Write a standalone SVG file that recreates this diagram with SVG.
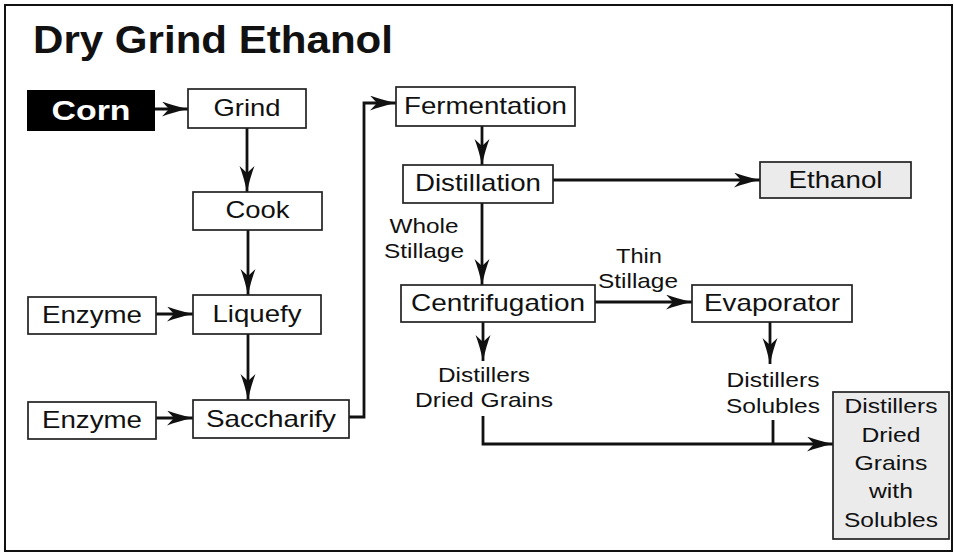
<svg xmlns="http://www.w3.org/2000/svg" width="954" height="553" viewBox="0 0 954 553">
<style>
.box{fill:#fff;stroke:#222;stroke-width:1.7}
.gray{fill:#ebebeb}
.t{font-family:"Liberation Sans",Arial,sans-serif;font-size:24px;fill:#111;text-anchor:middle}
.l{font-family:"Liberation Sans",Arial,sans-serif;font-size:21px;fill:#111;text-anchor:middle}
.c{fill:none;stroke:#111;stroke-width:2.8}
</style>
<defs>
<marker id="ah" markerUnits="userSpaceOnUse" markerWidth="28" markerHeight="16" refX="26" refY="7.5" orient="auto">
<path d="M0,0 Q10,4 26,7.5 Q10,11 0,15 L7,7.5 z" fill="#111"/>
</marker>
</defs>
<rect x="0" y="0" width="954" height="553" fill="#fff"/>
<rect x="5" y="5" width="947" height="546" fill="none" stroke="#111" stroke-width="2"/>
<text x="33" y="53" font-family="'Liberation Sans',Arial,sans-serif" font-size="39" font-weight="bold" fill="#111" textLength="360" lengthAdjust="spacingAndGlyphs">Dry Grind Ethanol</text>

<g id="connectors">
<line class="c" x1="155" y1="109" x2="188" y2="109" marker-end="url(#ah)"/>
<line class="c" x1="247" y1="128" x2="247" y2="192" marker-end="url(#ah)"/>
<line class="c" x1="248" y1="230" x2="248" y2="295" marker-end="url(#ah)"/>
<line class="c" x1="156" y1="314" x2="193" y2="314" marker-end="url(#ah)"/>
<line class="c" x1="248" y1="334" x2="248" y2="400" marker-end="url(#ah)"/>
<line class="c" x1="156" y1="418" x2="193" y2="418" marker-end="url(#ah)"/>
<path class="c" d="M349,417 H364 V103 H396" marker-end="url(#ah)"/>
<line class="c" x1="482" y1="126" x2="482" y2="165" marker-end="url(#ah)"/>
<line class="c" x1="553" y1="180" x2="760" y2="180" marker-end="url(#ah)"/>
<line class="c" x1="482" y1="203" x2="482" y2="285" marker-end="url(#ah)"/>
<line class="c" x1="595" y1="302" x2="692" y2="302" marker-end="url(#ah)"/>
<line class="c" x1="483" y1="322" x2="483" y2="361" marker-end="url(#ah)"/>
<line class="c" x1="770" y1="322" x2="770" y2="364" marker-end="url(#ah)"/>
<path class="c" d="M483,416 V444 H833" marker-end="url(#ah)"/>
<path class="c" d="M773,420 V444"/>
</g>

<g id="corn"><rect x="27" y="90" width="128" height="41" fill="#000"/><text x="91" y="120" font-family="'Liberation Sans',Arial,sans-serif" font-size="28" font-weight="bold" fill="#fff" text-anchor="middle" textLength="79" lengthAdjust="spacingAndGlyphs">Corn</text></g>
<g id="grind"><rect class="box" x="188" y="89" width="118" height="39"/><text class="t" x="247" y="116" textLength="67" lengthAdjust="spacingAndGlyphs">Grind</text></g>
<g id="cook"><rect class="box" x="193" y="192" width="129" height="38"/><text class="t" x="257.5" y="218" textLength="64" lengthAdjust="spacingAndGlyphs">Cook</text></g>
<g id="liquefy"><rect class="box" x="193" y="295" width="128" height="39"/><text class="t" x="257" y="322" textLength="89" lengthAdjust="spacingAndGlyphs">Liquefy</text></g>
<g id="enzyme1"><rect class="box" x="28" y="297" width="128" height="37"/><text class="t" x="92" y="323" textLength="100" lengthAdjust="spacingAndGlyphs">Enzyme</text></g>
<g id="saccharify"><rect class="box" x="193" y="400" width="156" height="38"/><text class="t" x="271" y="427" textLength="130" lengthAdjust="spacingAndGlyphs">Saccharify</text></g>
<g id="enzyme2"><rect class="box" x="28" y="402" width="128" height="37"/><text class="t" x="92" y="428" textLength="100" lengthAdjust="spacingAndGlyphs">Enzyme</text></g>
<g id="fermentation"><rect class="box" x="396" y="87" width="179" height="39"/><text class="t" x="485.5" y="114" textLength="163" lengthAdjust="spacingAndGlyphs">Fermentation</text></g>
<g id="distillation"><rect class="box" x="403" y="165" width="150" height="38"/><text class="t" x="478" y="191" textLength="126" lengthAdjust="spacingAndGlyphs">Distillation</text></g>
<g id="ethanol"><rect class="box gray" x="760" y="162" width="151" height="36"/><text class="t" x="835.5" y="188" textLength="94" lengthAdjust="spacingAndGlyphs">Ethanol</text></g>
<g id="centrifugation"><rect class="box" x="401" y="285" width="194" height="37"/><text class="t" x="498" y="311" textLength="174" lengthAdjust="spacingAndGlyphs">Centrifugation</text></g>
<g id="evaporator"><rect class="box" x="692" y="285" width="160" height="37"/><text class="t" x="772" y="311" textLength="136" lengthAdjust="spacingAndGlyphs">Evaporator</text></g>
<g id="ddgs"><rect class="box gray" x="833" y="392" width="116" height="147"/>
<text class="l" x="891" y="413" textLength="93" lengthAdjust="spacingAndGlyphs">Distillers</text>
<text class="l" x="891" y="442" textLength="59" lengthAdjust="spacingAndGlyphs">Dried</text>
<text class="l" x="891" y="470" textLength="73" lengthAdjust="spacingAndGlyphs">Grains</text>
<text class="l" x="891" y="498" textLength="44" lengthAdjust="spacingAndGlyphs">with</text>
<text class="l" x="891" y="527" textLength="94" lengthAdjust="spacingAndGlyphs">Solubles</text></g>

<g id="labels">
<text class="l" x="424" y="233" textLength="69" lengthAdjust="spacingAndGlyphs">Whole</text>
<text class="l" x="424" y="258" textLength="80" lengthAdjust="spacingAndGlyphs">Stillage</text>
<text class="l" x="639" y="263" textLength="46" lengthAdjust="spacingAndGlyphs">Thin</text>
<text class="l" x="638" y="288" textLength="80" lengthAdjust="spacingAndGlyphs">Stillage</text>
<text class="l" x="484" y="382" textLength="92" lengthAdjust="spacingAndGlyphs">Distillers</text>
<text class="l" x="484" y="407" textLength="138" lengthAdjust="spacingAndGlyphs">Dried Grains</text>
<text class="l" x="773" y="387" textLength="93" lengthAdjust="spacingAndGlyphs">Distillers</text>
<text class="l" x="773" y="413" textLength="94" lengthAdjust="spacingAndGlyphs">Solubles</text>
</g>
</svg>
